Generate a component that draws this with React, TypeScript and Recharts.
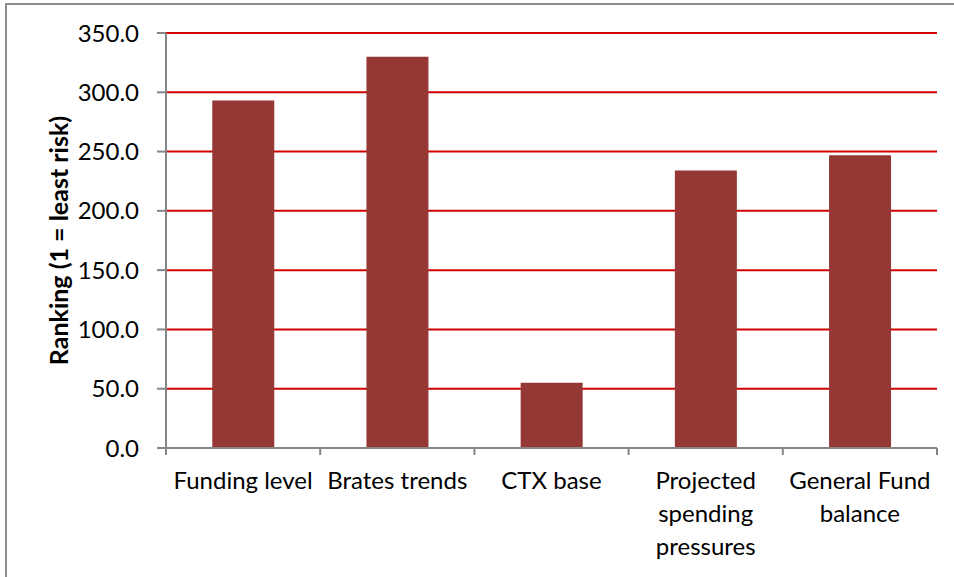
import { BarChart, Bar, XAxis, YAxis, CartesianGrid } from 'recharts'

const categories = ['Funding level', 'Brates trends', 'CTX base', 'Projected spending pressures', 'General Fund balance']
const rankings = [293, 330, 55, 234, 247]
const yTicks = [0, 50, 100, 150, 200, 250, 300, 350]

const data = categories.map((name, i) => ({ name, value: rankings[i] }))

const FONT = 'Lato, "Liberation Sans", sans-serif'
const CHART_W = 954
const CHART_H = 577
const Y_AXIS_W = 166
const RIGHT = 17
const BAND = (CHART_W - Y_AXIS_W - RIGHT) / categories.length

let ctx: CanvasRenderingContext2D | null = null
function measure(s: string) {
	if (!ctx) ctx = document.createElement('canvas').getContext('2d')
	if (!ctx) return s.length * 11
	ctx.font = `24px ${FONT}`
	return ctx.measureText(s).width
}

// greedy word wrap to fit the category band
function wrap(label: string, maxW: number) {
	const words = label.split(' ')
	const lines: string[] = []
	let cur = ''
	words.forEach((w) => {
		const next = cur ? cur + ' ' + w : w
		if (cur && measure(next) > maxW) {
			lines.push(cur)
			cur = w
		} else cur = next
	})
	if (cur) lines.push(cur)
	return lines
}

function CategoryTick(props: any) {
	const { x, y, payload, index } = props
	const half = BAND / 2
	const lines = wrap(String(payload.value), BAND - 6)
	return (
		<g>
			<line x1={x - half} y1={y} x2={x - half} y2={y + 7} stroke="#868686" strokeWidth={2} />
			{index === categories.length - 1 && (
				<line x1={x + half} y1={y} x2={x + half} y2={y + 7} stroke="#868686" strokeWidth={2} />
			)}
			<text x={x} y={y + 41} textAnchor="middle" fill="#000" style={{ fontSize: 24, fontFamily: FONT }}>
				{lines.map((l, i) => (
					<tspan key={i} x={x} dy={i === 0 ? 0 : 33}>
						{l}
					</tspan>
				))}
			</text>
		</g>
	)
}

function AxisTitle(props: any) {
	const vb = props.viewBox || {}
	const cx = (vb.x ?? 0) + 58
	const cy = (vb.y ?? 0) + (vb.height ?? 0) / 2
	return (
		<text
			x={cx}
			y={cy}
			transform={`rotate(-90 ${cx} ${cy})`}
			textAnchor="middle"
			dominantBaseline="central"
			style={{ fontSize: 25, fontWeight: 700, fontFamily: FONT }}
			fill="#000"
		>
			Ranking (1 = least risk)
		</text>
	)
}

export default function App() {
	return (
		<div style={{ position: 'absolute', left: 0, top: 0, width: CHART_W, height: CHART_H, background: '#fff', overflow: 'hidden' }}>
			<div
				style={{
					position: 'absolute',
					left: 5,
					top: 3,
					width: 980,
					height: 600,
					borderTop: '2px solid #8c8c8c',
					borderLeft: '2px solid #8c8c8c',
				}}
			/>
			<div style={{ position: 'absolute', left: 0, top: 0 }}>
				<BarChart
					width={CHART_W}
					height={CHART_H}
					data={data}
					margin={{ top: 33, right: RIGHT, left: 0, bottom: 0 }}
					barCategoryGap="30%"
				>
					<CartesianGrid vertical={false} stroke="#d00000" strokeWidth={2} />
					<XAxis
						dataKey="name"
						interval={0}
						height={129}
						tickSize={0}
						tickMargin={0}
						tickLine={false}
						axisLine={{ stroke: '#868686', strokeWidth: 2 }}
						tick={<CategoryTick />}
					/>
					<YAxis
						width={Y_AXIS_W}
						domain={[0, 350]}
						ticks={yTicks}
						interval={0}
						tickFormatter={(v: number) => v.toFixed(1)}
						tickSize={9}
						tickMargin={18}
						axisLine={{ stroke: '#868686', strokeWidth: 2 }}
						tickLine={{ stroke: '#868686', strokeWidth: 2 }}
						tick={{ fill: '#000', fontSize: 24, fontFamily: FONT }}
						label={<AxisTitle />}
					/>
					<Bar dataKey="value" fill="#953735" isAnimationActive={false} />
				</BarChart>
			</div>
		</div>
	)
}
